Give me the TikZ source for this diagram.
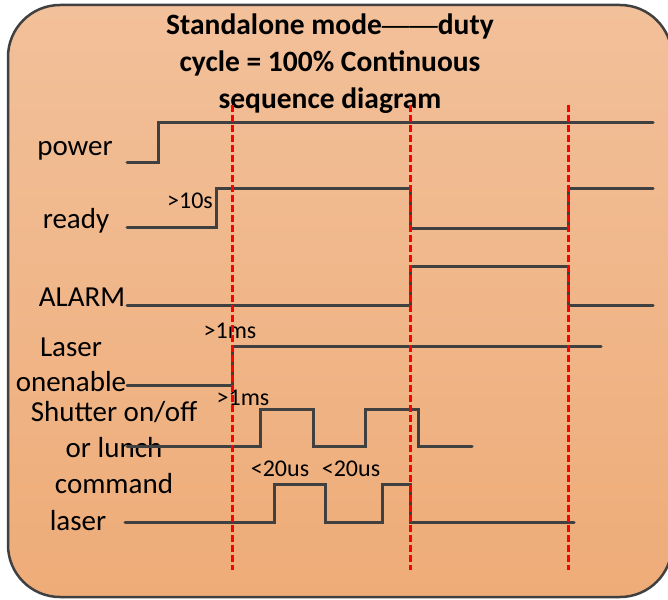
\documentclass[tikz,border=0pt]{standalone}
\usepackage{fontspec}
\setmainfont{Carlito}
\newfontfamily\dashfont{Liberation Sans}
\usetikzlibrary{positioning}
\definecolor{panelTop}{RGB}{242,192,154}
\definecolor{panelBottom}{RGB}{238,172,120}
\definecolor{wire}{HTML}{404040}
\definecolor{marker}{HTML}{FF0000}

\begin{document}
\begin{tikzpicture}[x=1pt,y=-1pt,
  signal/.style={draw=wire, line width=3pt, line cap=round},
  timeline/.style={draw=marker, line width=3pt, dash pattern=on 6.5pt off 3.5pt},
  headline/.style={anchor=base, inner sep=0pt, font=\bfseries\fontsize{29.5}{34}\selectfont},
  signame/.style={anchor=base, inner sep=0pt, font=\fontsize{29}{34}\selectfont},
  delay/.style={anchor=base, inner sep=0pt, font=\fontsize{24}{28}\selectfont}]
\useasboundingbox (0,0) rectangle (668,599);
\clip (0,0) rectangle (668,599);
\draw[rounded corners=52pt, top color=panelTop, bottom color=panelBottom, draw=wire, line width=2.5pt] (8,5) rectangle (672,597);

\node[headline] (title1) at (330,35) {Standalone mode{\dashfont\mdseries\fontsize{28}{34}\selectfont ——}duty};
\node[headline] (title2) at (330,72) {cycle = 100\% Continuous};
\node[headline] (title3) at (330,108) {sequence diagram};

\node[signame] (power) at (75,155) {power};
\node[signame] (ready) at (76,228) {ready};
\node[signame] (alarm) at (82,306) {ALARM};
\node[signame] (laser1) at (71,356) {Laser};
\node[signame] (laser2) at (71,391) {onenable};
\node[signame] (shutter1) at (114,421) {Shutter on/off};
\node[signame] (shutter2) at (114,457) {or lunch};
\node[signame] (cmd1) at (114,493) {command};
\node[signame] (cmd2) at (78,530) {laser};

\node[delay, anchor=base east] (d10s) at (213,208) {>10s};
\node[delay] (d1ms) at (230,338) {>1ms};
\node[delay] (d1msb) at (243,405) {>1ms};
\node[delay] (d20us) at (280,476) {<20us};
\node[delay] (d20usb) at (351,476) {<20us};

\draw[signal] (127,162) -- (158,162) -- (158,122) -- (653,122);
\draw[signal] (127,227) -- (216,227) -- (216,188) -- (410,188) -- (410,228) -- (568,228) -- (568,188) -- (653,188);
\draw[signal] (127,305) -- (410,305) -- (410,266) -- (568,266) -- (568,305) -- (653,305);
\draw[signal] (127,385) -- (232,385) -- (232,346) -- (601,346);
\draw[signal] (127,446) -- (260,446) -- (260,409) -- (313,409) -- (313,446) -- (365,446) -- (365,409) -- (418,409) -- (418,446) -- (472,446);
\draw[signal] (125,522) -- (274,522) -- (274,484) -- (325,484) -- (325,522) -- (382,522) -- (382,484) -- (410,484) -- (410,522) -- (574,522);

\foreach \t in {232,410,568}
  \draw[timeline] (\t,105) -- (\t,570);
\end{tikzpicture}
\end{document}
